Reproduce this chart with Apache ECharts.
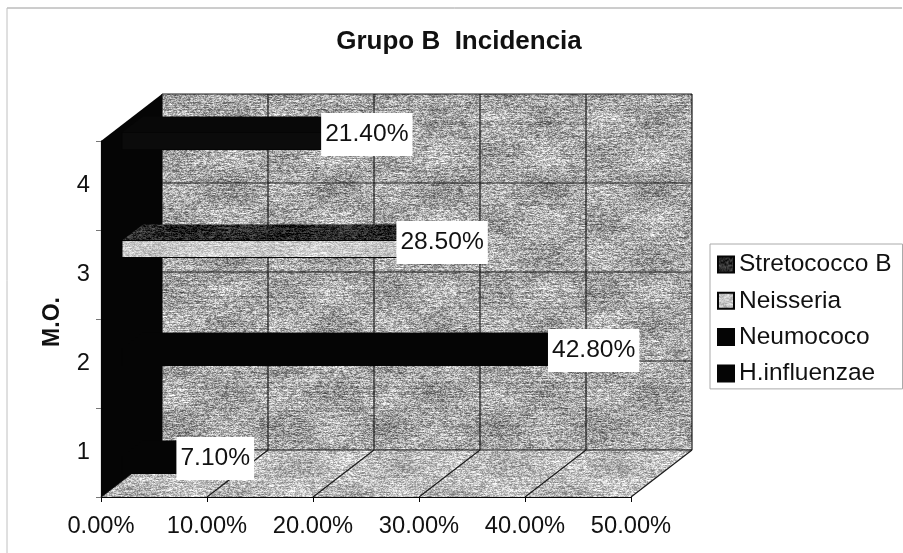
<!DOCTYPE html>
<html>
<head>
<meta charset="utf-8">
<script src="https://cdn.jsdelivr.net/npm/echarts@6/dist/echarts.min.js"></script>
<style>html,body{margin:0;padding:0;background:#fff}#chart{width:903px;height:553px}</style>
</head>
<body>
<div id="chart"></div>
<script>
// Values per micro-organism, one per M.O. category (null = no bar)
const categories = ['1', '2', '3', '4'];
const tickValues = [0, 10, 20, 30, 40, 50];
const hInfluenzae = [7.1, null, null, null];
const neumococo = [null, 42.8, null, null];
const neisseria = [null, null, 28.5, null];
const stretococco = [null, null, null, 21.4];

const FONT = '"Liberation Sans", Arial, sans-serif';
const WALL_DX = 61, WALL_DY = -47;   // oblique offset of the back wall
const BAR_DX = 21, BAR_DY = -16;     // oblique offset of the bars' front face
const SLOT = 19, BAR_H = 17;

// Deterministic grain for the grey surfaces: fine speckle with faint streaks
function grain(base, spread, seed) {
  const W = 640, H = 480;
  const raw = document.createElement('canvas');
  raw.width = W; raw.height = H;
  const g = raw.getContext('2d');
  // xorshift generator, so the speckle has no visible block structure
  let s = (seed * 2654435761) >>> 0 || 1;
  const next = () => {
    s ^= s << 13; s >>>= 0;
    s ^= s >>> 17;
    s ^= s << 5; s >>>= 0;
    return s / 4294967296;
  };
  const img = g.createImageData(W, H);
  for (let y = 0; y < H; y++) {
    const row = (next() - 0.5) * spread * 0.3;
    let run = 0;
    for (let x = 0; x < W; x++) {
      run = run * 0.4 + (next() - 0.5) * spread;
      const blotch = Math.sin(x / W * Math.PI * 12 + seed) * Math.sin(y / H * Math.PI * 14) * spread * 0.16;
      const v = Math.max(0, Math.min(255, base + row + run + blotch));
      const i = (y * W + x) * 4;
      img.data[i] = img.data[i + 1] = img.data[i + 2] = v;
      img.data[i + 3] = 255;
    }
  }
  g.putImageData(img, 0, 0);
  const c = document.createElement('canvas');
  c.width = W; c.height = H;
  const soft = c.getContext('2d');
  soft.filter = 'blur(0.6px)';
  // Draw wrapped copies so the softened tile keeps opaque edges
  for (let ox = -W; ox <= W; ox += W) {
    for (let oy = -H; oy <= H; oy += H) soft.drawImage(raw, ox, oy);
  }
  return { image: c, repeat: 'repeat' };
}

const wallFill = grain(168, 105, 7);
const floorFill = grain(188, 90, 3);
const lightFill = grain(202, 60, 11);
const darkFill = grain(42, 70, 19);
const BLACK = '#050505';

const chart = echarts.init(document.getElementById('chart'), null, { renderer: 'canvas' });

// Back wall, floor, left wall and gridlines, positioned through the axes
function renderShell(params, api) {
  const children = [];
  const xMin = tickValues[0], xMax = tickValues[tickValues.length - 1];
  const band = api.size([0, 1])[1];
  const bl = api.coord([xMin, 0]);
  const br = api.coord([xMax, 0]);
  const yBottom = bl[1] + band / 2, yTop = yBottom - band * categories.length;
  const xL = bl[0], xR = br[0];
  const poly = (points, fill) => ({ type: 'polygon', shape: { points }, style: { fill, stroke: null } });
  const line = (x1, y1, x2, y2, w) => ({
    type: 'line', shape: { x1, y1, x2, y2 }, style: { stroke: '#1a1a1a', lineWidth: w || 1.2 }
  });
  children.push(poly([[xL + WALL_DX, yTop + WALL_DY], [xR + WALL_DX, yTop + WALL_DY],
    [xR + WALL_DX, yBottom + WALL_DY], [xL + WALL_DX, yBottom + WALL_DY]], wallFill));
  children.push(poly([[xL, yBottom], [xR, yBottom], [xR + WALL_DX, yBottom + WALL_DY],
    [xL + WALL_DX, yBottom + WALL_DY]], floorFill));
  for (let i = 0; i <= categories.length; i++) {
    const y = yBottom - band * i + WALL_DY;
    children.push(line(xL + WALL_DX, y, xR + WALL_DX, y));
  }
  tickValues.forEach(v => {
    const x = api.coord([v, 0])[0];
    children.push(line(x + WALL_DX, yTop + WALL_DY, x + WALL_DX, yBottom + WALL_DY));
    children.push(line(x, yBottom, x + WALL_DX, yBottom + WALL_DY));
  });
  children.push(poly([[xL, yTop], [xL + WALL_DX, yTop + WALL_DY], [xL + WALL_DX, yBottom + WALL_DY],
    [xL, yBottom]], BLACK));
  return { type: 'group', children };
}

// One oblique bar: front face, top face and its boxed value label
function barRenderer(slotIndex, frontFill, topFill) {
  return function (params, api) {
    const value = api.value(0);
    const cat = api.value(1);
    const end = api.coord([value, cat]);
    const start = api.coord([0, cat]);
    const cy = end[1] + BAR_DY + (1.5 - slotIndex) * SLOT;
    const y0 = cy - BAR_H / 2, y1 = cy + BAR_H / 2;
    const x0 = start[0] + BAR_DX, x1 = end[0] + BAR_DX;
    return {
      type: 'group',
      children: [
        { type: 'polygon', shape: { points: [[x0, y0], [x1, y0], [x1 + BAR_DX, y0 + BAR_DY], [x0 + BAR_DX, y0 + BAR_DY]] },
          style: { fill: topFill } },
        { type: 'rect', shape: { x: x0, y: y0, width: x1 - x0, height: y1 - y0 },
          style: { fill: frontFill, stroke: BLACK, lineWidth: 1 } },
        { type: 'text', z2: 50, style: {
            x: x1 + 18, y: y0 + 2,
            text: value.toFixed(2) + '%', font: '24.6px ' + FONT, fill: '#111',
            align: 'center', verticalAlign: 'middle',
            backgroundColor: '#fff', padding: [9, 4, 9, 4]
        } }
      ]
    };
  };
}

function toData(values) {
  return values.map((v, i) => (v == null ? null : [v, i])).filter(Boolean);
}

function barSeries(name, values, slotIndex, frontFill, topFill, legendColor) {
  return {
    type: 'custom', name, coordinateSystem: 'cartesian2d', z: 3 + slotIndex,
    clip: false, silent: true, animation: false,
    itemStyle: { color: legendColor, borderColor: BLACK, borderWidth: 1 },
    encode: { x: 0, y: 1 },
    data: toData(values),
    renderItem: barRenderer(slotIndex, frontFill, topFill)
  };
}

chart.setOption({
  animation: false,
  backgroundColor: '#fff',
  graphic: [
    { type: 'line', z: -1, silent: true, shape: { x1: 7, y1: 8, x2: 902, y2: 8 },
      style: { stroke: '#9a9a9a', lineWidth: 1 } },
    { type: 'line', z: -1, silent: true, shape: { x1: 7, y1: 8, x2: 7, y2: 553 },
      style: { stroke: '#c0c0c0', lineWidth: 1 } }
  ],
  title: {
    text: 'Grupo B  Incidencia', left: 454, top: 24, textAlign: 'center',
    textStyle: { fontFamily: FONT, fontWeight: 'bold', fontSize: 26, color: '#111' }
  },
  grid: { left: 101, width: 530, top: 141, height: 356, containLabel: false },
  legend: {
    orient: 'vertical', left: 710, top: 244, width: 192,
    padding: [8, 11, 3, 7], itemGap: 11.3, itemWidth: 16, itemHeight: 16,
    borderColor: '#aaa', borderWidth: 1, backgroundColor: '#fff',
    textStyle: { fontFamily: FONT, fontSize: 24.5, color: '#111' },
    data: [
      { name: 'Stretococco B', icon: 'rect' },
      { name: 'Neisseria', icon: 'rect' },
      { name: 'Neumococo', icon: 'rect' },
      { name: 'H.influenzae', icon: 'rect' }
    ]
  },
  xAxis: {
    type: 'value', min: 0, max: 50, interval: 10,
    axisLine: { show: true, lineStyle: { color: BLACK, width: 1.2 } },
    axisTick: { show: true, length: 5, lineStyle: { color: BLACK } },
    splitLine: { show: false },
    axisLabel: {
      margin: 17, fontFamily: FONT, fontSize: 23.7, color: '#111',
      formatter: v => v.toFixed(2) + '%'
    }
  },
  yAxis: {
    type: 'category', data: categories,
    name: 'M.O.', nameLocation: 'middle', nameGap: 37, nameRotate: 90,
    nameTextStyle: { fontFamily: FONT, fontWeight: 'bold', fontSize: 23, color: '#111', padding: [0, 6, 0, 0] },
    axisLine: { show: true, lineStyle: { color: BLACK, width: 1.2 } },
    axisTick: { show: true, length: 5, lineStyle: { color: '#777' } },
    axisLabel: { margin: 11, fontFamily: FONT, fontSize: 23.7, color: '#111' },
    splitLine: { show: false }
  },
  series: [
    {
      type: 'custom', name: 'shell', coordinateSystem: 'cartesian2d', z: 1,
      clip: false, silent: true, animation: false,
      encode: { x: 0, y: 1 }, data: [[0, 0]], renderItem: renderShell
    },
    barSeries('H.influenzae', hInfluenzae, 0, BLACK, BLACK, BLACK),
    barSeries('Neumococo', neumococo, 1, BLACK, BLACK, BLACK),
    barSeries('Neisseria', neisseria, 2, lightFill, darkFill, lightFill),
    barSeries('Stretococco B', stretococco, 3, '#0b0b0b', '#080808', darkFill)
  ]
});
</script>
</body>
</html>
